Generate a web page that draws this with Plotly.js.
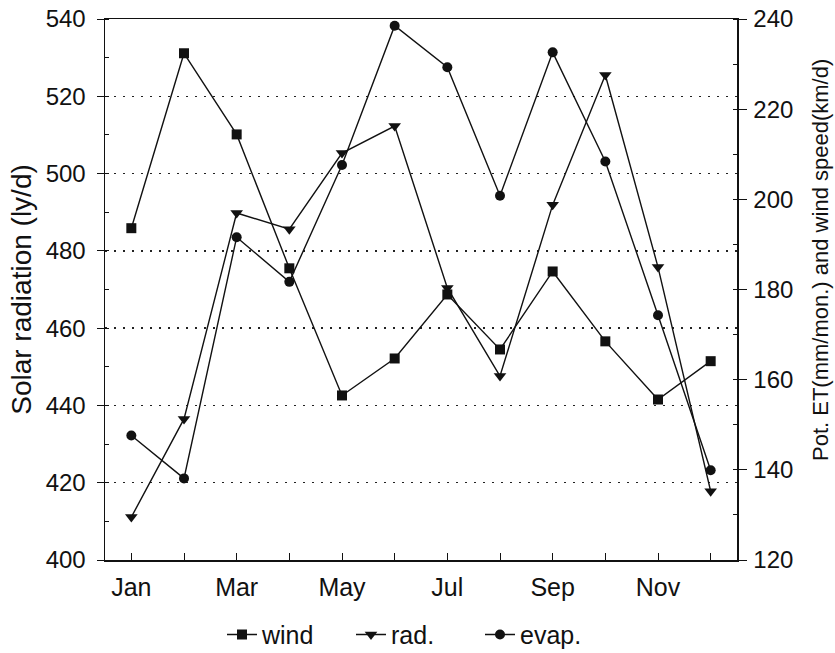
<!DOCTYPE html>
<html>
<head>
<meta charset="utf-8">
<script src="https://cdn.plot.ly/plotly-3.0.1.min.js"></script>
<style>
html,body{margin:0;padding:0;background:#fff;}
#chart{width:835px;height:653px;}
</style>
</head>
<body>
<div id="chart"></div>
<script>
const months = ['Jan','Feb','Mar','Apr','May','Jun','Jul','Aug','Sep','Oct','Nov','Dec'];
const tickLabels = ['Jan','','Mar','','May','','Jul','','Sep','','Nov',''];
const wind = [193.6, 232.4, 214.4, 184.7, 156.5, 164.7, 178.9, 166.7, 184.0, 168.5, 155.6, 164.1];
const rad  = [411.1, 436.5, 489.8, 485.6, 505.3, 512.3, 470.4, 447.6, 491.9, 525.5, 475.8, 417.8];
const evap = [147.6, 138.1, 191.6, 181.7, 207.6, 238.5, 229.3, 200.8, 232.6, 208.4, 174.3, 139.9];
const leftTitle = 'Solar radiation (ly/d)';
const rightTitle = 'Pot. ET(mm/mon.) and wind speed(km/d)';

const FONT = 'Liberation Sans, Arial, sans-serif';
const lineStyle = {color: '#111', width: 1.4};

const traces = [
  {x: months, y: wind, name: 'wind', yaxis: 'y2', mode: 'lines+markers',
   line: lineStyle, marker: {symbol: 'square', size: 10, color: '#111'}},
  {x: months, y: rad, name: 'rad.', yaxis: 'y', mode: 'lines+markers',
   line: lineStyle, marker: {symbol: 'triangle-down', size: 11, color: '#111'}},
  {x: months, y: evap, name: 'evap.', yaxis: 'y2', mode: 'lines+markers',
   line: lineStyle, marker: {symbol: 'circle', size: 10, color: '#111'}}
];

const layout = {
  width: 835, height: 653,
  margin: {l: 105, r: 98, t: 19, b: 93, autoexpand: false},
  paper_bgcolor: '#fff', plot_bgcolor: '#fff',
  font: {family: FONT, color: '#111', size: 24},
  showlegend: true,
  legend: {orientation: 'h', x: 222 / 835, xref: 'container', xanchor: 'left',
           y: 0.028, yref: 'container', yanchor: 'middle',
           entrywidth: 84, entrywidthmode: 'pixels',
           font: {size: 25, family: FONT}, itemwidth: 30, bgcolor: 'rgba(0,0,0,0)'},
  xaxis: {
    type: 'category', range: [-0.5, 11.5],
    tickvals: months, ticktext: tickLabels,
    ticks: 'inside', ticklen: 7, tickcolor: '#111', tickwidth: 1,
    showline: true, linecolor: '#111', linewidth: 1.5, mirror: true,
    showgrid: false, zeroline: false,
    tickfont: {size: 25}, ticklabelstandoff: 4
  },
  yaxis: {
    range: [400, 540], dtick: 20, tick0: 400,
    ticks: 'outside', ticklen: 7, tickcolor: '#111',
    minor: {dtick: 10, ticks: 'inside', ticklen: 4, tickcolor: '#111', showgrid: false},
    showline: true, linecolor: '#111', linewidth: 1.5,
    showgrid: true, gridcolor: '#222', gridwidth: 1.5, griddash: '2px,7px',
    zeroline: false,
    tickfont: {size: 24}, ticklabelstandoff: 6,
    title: {text: leftTitle, font: {size: 28}, standoff: 6}
  },
  yaxis2: {
    overlaying: 'y', side: 'right',
    range: [120, 240], dtick: 20, tick0: 120,
    ticks: 'outside', ticklen: 8, tickcolor: '#111',
    minor: {dtick: 10, ticks: 'inside', ticklen: 4, tickcolor: '#111', showgrid: false},
    showline: true, linecolor: '#111', linewidth: 1.5,
    showgrid: false, zeroline: false,
    tickfont: {size: 24}, ticklabelstandoff: 2
  },
  annotations: [{
    text: rightTitle, textangle: -90, showarrow: false,
    xref: 'paper', yref: 'paper', x: (820 - 105) / 632, y: (560 - 260) / 541,
    xanchor: 'center', yanchor: 'middle', font: {size: 22, family: FONT, color: '#111'}
  }]
};

Plotly.newPlot('chart', traces, layout, {displayModeBar: false, staticPlot: true});
</script>
</body>
</html>
